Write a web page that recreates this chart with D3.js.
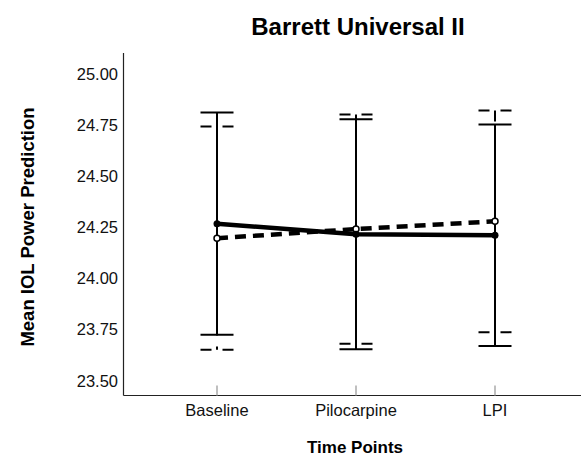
<!DOCTYPE html>
<html>
<head>
<meta charset="utf-8">
<script src="https://cdn.jsdelivr.net/npm/d3@7"></script>
<style>
  body { margin: 0; background: #fff; }
  text { font-family: "Liberation Sans", Arial, sans-serif; }
</style>
</head>
<body>
<div id="chart"></div>
<script>
const timePoints = ["Baseline", "Pilocarpine", "LPI"];
const yTicks = [23.5, 23.75, 24.0, 24.25, 24.5, 24.75, 25.0];

// solid series
const solidMean = [24.266, 24.215, 24.21];
const solidLow  = [23.723, 23.653, 23.668];
const solidHigh = [24.81, 24.777, 24.751];

// dashed series
const dashMean = [24.195, 24.24, 24.278];
const dashLow  = [23.65, 23.68, 23.736];
const dashHigh = [24.741, 24.80, 24.819];

const svgWidth = 581;
const svgHeight = 457;

const svg = d3.select("#chart")
  .append("svg")
  .attr("width", svgWidth)
  .attr("height", svgHeight);

const plotLeft = 123.5, plotRight = 581, plotTop = 53, plotBottom = 395.5;

const x = d3.scalePoint()
  .domain(timePoints)
  .range([217, 495]);

const y = d3.scaleLinear()
  .domain([23.5, 25.0])
  .range([380.5, 73.5]);

// axes lines
svg.append("line")
  .attr("x1", plotLeft).attr("x2", plotLeft)
  .attr("y1", plotTop).attr("y2", plotBottom)
  .attr("stroke", "#222").attr("stroke-width", 1.2);

svg.append("line")
  .attr("x1", plotLeft).attr("x2", plotRight)
  .attr("y1", plotBottom).attr("y2", plotBottom)
  .attr("stroke", "#222").attr("stroke-width", 1.2);

// y tick labels
svg.selectAll(".ytick")
  .data(yTicks)
  .enter()
  .append("text")
  .attr("x", 118)
  .attr("y", d => y(d) + 6)
  .attr("text-anchor", "end")
  .attr("font-size", 16.5)
  .attr("fill", "#111")
  .text(d => d.toFixed(2));

// x ticks (gray, inside)
svg.selectAll(".xtick")
  .data(timePoints)
  .enter()
  .append("line")
  .attr("x1", d => x(d)).attr("x2", d => x(d))
  .attr("y1", plotBottom - 10).attr("y2", plotBottom)
  .attr("stroke", "#aaa").attr("stroke-width", 1.5);

svg.selectAll(".xlabel")
  .data(timePoints)
  .enter()
  .append("text")
  .attr("x", d => x(d))
  .attr("y", 416)
  .attr("text-anchor", "middle")
  .attr("font-size", 16.5)
  .attr("fill", "#111")
  .text(d => d);

// titles
svg.append("text")
  .attr("x", 358).attr("y", 35)
  .attr("text-anchor", "middle")
  .attr("font-size", 24).attr("font-weight", "bold")
  .text("Barrett Universal II");

svg.append("text")
  .attr("x", 355).attr("y", 453)
  .attr("text-anchor", "middle")
  .attr("font-size", 17).attr("font-weight", "bold")
  .text("Time Points");

svg.append("text")
  .attr("transform", "translate(34, 227) rotate(-90)")
  .attr("text-anchor", "middle")
  .attr("font-size", 18.5).attr("font-weight", "bold")
  .text("Mean IOL Power Prediction");

const capHalf = 16.5;

function errorBars(low, high, dash) {
  const g = svg.append("g");
  timePoints.forEach((t, i) => {
    const cx = x(t);
    g.append("line")
      .attr("x1", cx).attr("x2", cx)
      .attr("y1", y(high[i])).attr("y2", y(low[i]))
      .attr("stroke", "#000").attr("stroke-width", 2)
      .attr("stroke-dasharray", dash ? "11,11" : null);
    [low[i], high[i]].forEach(v => {
      g.append("line")
        .attr("x1", cx - capHalf).attr("x2", cx + capHalf)
        .attr("y1", y(v)).attr("y2", y(v))
        .attr("stroke", "#000").attr("stroke-width", 2)
        .attr("stroke-dasharray", dash ? "11,11" : null);
    });
  });
}

errorBars(dashLow, dashHigh, true);
errorBars(solidLow, solidHigh, false);

const line = d3.line()
  .x((d, i) => x(timePoints[i]))
  .y(d => y(d));

svg.append("path")
  .datum(dashMean)
  .attr("d", line)
  .attr("fill", "none")
  .attr("stroke", "#000").attr("stroke-width", 4.5)
  .attr("stroke-dasharray", "11,7");

svg.append("path")
  .datum(solidMean)
  .attr("d", line)
  .attr("fill", "none")
  .attr("stroke", "#000").attr("stroke-width", 4.5);

svg.selectAll(".dashpt")
  .data(dashMean)
  .enter()
  .append("circle")
  .attr("cx", (d, i) => x(timePoints[i]))
  .attr("cy", d => y(d))
  .attr("r", 3)
  .attr("fill", "#fff")
  .attr("stroke", "#000").attr("stroke-width", 1.5);

svg.selectAll(".solidpt")
  .data(solidMean)
  .enter()
  .append("circle")
  .attr("cx", (d, i) => x(timePoints[i]))
  .attr("cy", d => y(d))
  .attr("r", 3.5)
  .attr("fill", "#000");
</script>
</body>
</html>
